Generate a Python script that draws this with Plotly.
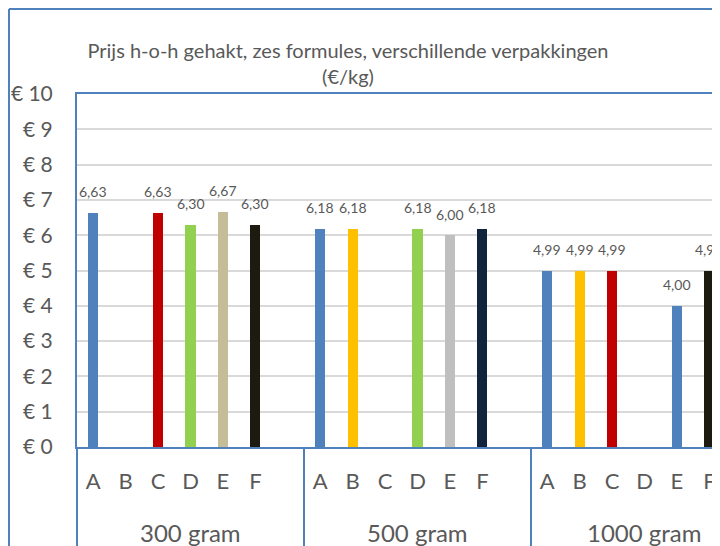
import plotly.graph_objects as go

groups = ["300 gram", "500 gram", "1000 gram"]
formules = ["A", "B", "C", "D", "E", "F"]
prijs_300 = [6.63, None, 6.63, 6.30, 6.67, 6.30]
prijs_500 = [6.18, 6.18, None, 6.18, 6.00, 6.18]
prijs_1000 = [4.99, 4.99, 4.99, None, 4.00, 4.99]
kleuren_300 = ["#4F81BD", "#4F81BD", "#C00000", "#92D050", "#C4BD97", "#1D1B10"]
kleuren_500 = ["#4F81BD", "#FFC000", "#C00000", "#92D050", "#BFBFBF", "#10243E"]
kleuren_1000 = ["#4F81BD", "#FFC000", "#C00000", "#92D050", "#4F81BD", "#1D1B10"]
y_ticks = list(range(0, 11))
y_ticktext = ["€ %d" % v for v in y_ticks]

SLOTS = 7  # six formulas plus one empty slot per group
all_vals = [prijs_300, prijs_500, prijs_1000]
all_cols = [kleuren_300, kleuren_500, kleuren_1000]

xs, ys, cols = [], [], []
tickvals, ticktext = [], []
for g, (vals, cl) in enumerate(zip(all_vals, all_cols)):
    for j, (f, v, c) in enumerate(zip(formules, vals, cl)):
        pos = g * SLOTS + j
        tickvals.append(pos)
        ticktext.append(f)
        xs.append(pos)
        ys.append(v)
        cols.append(c)

TXT = "#595959"
BLUE = "#4F81BD"
FONT = "Lato"

fig = go.Figure(go.Bar(
    x=xs, y=ys, marker=dict(color=cols, line=dict(width=0)),
    width=0.31, hoverinfo="skip",
))

# page body adds an 8px offset; figure coordinates compensate for it
OFF = 8
W, H = 720 - OFF, 546 - OFF
L, T = 77 - OFF, 94 - OFF
PB = 447 - OFF  # plot bottom (figure px)
R, B = 0, H - PB
ph = PB - T
pw = W - L - R
per = 227 / 7.0
xmax = -0.5 + pw / per

shapes = []
# group dividers below the axis
shapes.append(dict(type="line", xref="paper", yref="paper", x0=0, x1=0,
                   y0=0, y1=-0.35, line=dict(color=BLUE, width=2)))
for xv in [SLOTS - 0.5, 2 * SLOTS - 0.5]:
    shapes.append(dict(type="line", xref="x", yref="paper", x0=xv, x1=xv,
                       y0=0, y1=-0.35, line=dict(color=BLUE, width=2)))
# outer chart border (left and top)
bx = ((9 - OFF) - L) / pw
by = 1 + (T - (9 - OFF)) / ph
shapes.append(dict(type="line", xref="paper", yref="paper", x0=bx, x1=bx,
                   y0=-0.35, y1=by, line=dict(color=BLUE, width=2)))
shapes.append(dict(type="line", xref="paper", yref="paper", x0=bx, x1=1.2,
                   y0=by, y1=by, line=dict(color=BLUE, width=2)))

annotations = []
# data labels above the bars
for x, v in zip(xs, ys):
    if v is None:
        continue
    annotations.append(dict(x=x, y=v, xref="x", yref="y", text=("%.2f" % v).replace(".", ","),
                            showarrow=False, xanchor="center", yanchor="middle", yshift=21,
                            font=dict(family=FONT, size=14, color=TXT)))
# group labels
for g, name in enumerate(groups):
    annotations.append(dict(x=g * SLOTS + 3, y=-((532 - OFF) - PB) / ph, xref="x", yref="paper",
                            text=name, showarrow=False, xanchor="center", yanchor="middle",
                            font=dict(family=FONT, size=24, color=TXT)))

fig.update_layout(
    width=W, height=H,
    margin=dict(l=L, r=R, t=T, b=B, autoexpand=False),
    paper_bgcolor="white", plot_bgcolor="white",
    showlegend=False,
    bargap=0,
    title=dict(text="Prijs h-o-h gehakt, zes formules, verschillende verpakkingen<br>(€/kg)",
               x=(348 - OFF) / W, xref="container", xanchor="center",
               y=1 - (58 - OFF) / H, yref="container", yanchor="middle",
               font=dict(family=FONT, size=20, color=TXT)),
    xaxis=dict(range=[-0.5, xmax], tickvals=tickvals, ticktext=ticktext,
               showgrid=False, zeroline=False, showline=True, mirror=True,
               linecolor=BLUE, linewidth=2, ticks="", ticklabelstandoff=14,
               automargin=False,
               tickfont=dict(family=FONT, size=22, color=TXT)),
    yaxis=dict(range=[0, 10], tickvals=y_ticks, ticktext=y_ticktext,
               showgrid=True, gridcolor="#D9D9D9", gridwidth=1.5,
               zeroline=False, showline=True, linecolor=BLUE, linewidth=2,
               ticks="", ticklabelstandoff=18, automargin=False,
               tickfont=dict(family=FONT, size=21, color=TXT)),
    shapes=shapes, annotations=annotations,
)

fig.write_html("out.html")
